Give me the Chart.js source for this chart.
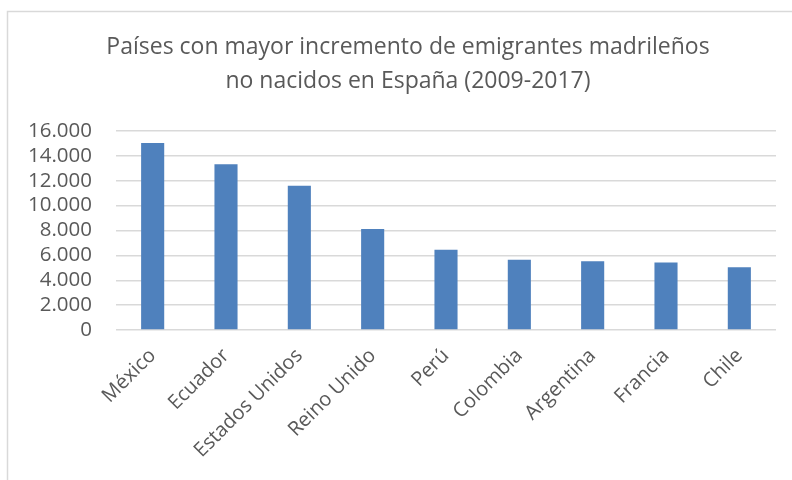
<!DOCTYPE html>
<html>
<head>
<meta charset="utf-8">
<script src="https://cdn.jsdelivr.net/npm/chart.js@4"></script>
<style>
  html, body { margin: 0; padding: 0; background: #fff; }
  #wrap { width: 792px; height: 480px; position: relative; }
</style>
</head>
<body>
<div id="wrap"><canvas id="chart" width="792" height="480"></canvas></div>
<script>
// Países con mayor incremento de emigrantes (2009-2017)
const paises = ['México', 'Ecuador', 'Estados Unidos', 'Reino Unido', 'Perú', 'Colombia', 'Argentina', 'Francia', 'Chile'];
const emigrantes = [15030, 13330, 11600, 8130, 6450, 5650, 5520, 5420, 5040];
const tituloLineas = ['Países con mayor incremento de emigrantes madrileños', 'no nacidos en España (2009-2017)'];

const gris = '#595959';

// marco gris claro y título centrado sobre el marco, como en Excel
const marco = {
  id: 'marco',
  beforeDraw(chart) {
    const c = chart.ctx;
    c.save();
    c.fillStyle = '#fff';
    c.fillRect(0, 0, chart.width, chart.height);
    c.strokeStyle = '#d9d9d9';
    c.lineWidth = 1.5;
    c.strokeRect(7.5, 11.5, 900, 600);
    c.restore();
  },
  afterDraw(chart) {
    const c = chart.ctx;
    c.save();
    c.fillStyle = gris;
    c.font = '23px "Open Sans"';
    c.textAlign = 'center';
    c.textBaseline = 'middle';
    tituloLineas.forEach((t, i) => c.fillText(t, 408, 47 + i * 34));
    c.restore();
  }
};

new Chart(document.getElementById('chart'), {
  type: 'bar',
  data: {
    labels: paises,
    datasets: [{
      data: emigrantes,
      backgroundColor: '#4f81bd',
      borderWidth: 0,
      barPercentage: 0.315,
      categoryPercentage: 1
    }]
  },
  options: {
    responsive: false,
    animation: false,
    layout: { padding: { left: 0, right: 16, top: 131, bottom: 0 } },
    plugins: {
      legend: { display: false },
      tooltip: { enabled: false },
      title: { display: false }
    },
    scales: {
      x: {
        grid: { display: false },
        border: { display: false },
        ticks: {
          color: gris,
          font: { family: 'Open Sans', size: 20 },
          maxRotation: 45,
          minRotation: 45,
          padding: 6
        },
        afterFit(scale) { scale.height = 150; }
      },
      y: {
        min: 0,
        max: 16000,
        grid: { color: '#d9d9d9', lineWidth: 1.5, drawTicks: false },
        border: { display: false },
        ticks: {
          stepSize: 2000,
          autoSkip: false,
          color: gris,
          padding: 24,
          font: { family: 'Open Sans', size: 20.5, lineHeight: 1 },
          callback: (v) => v.toLocaleString('de-DE')
        },
        afterFit(scale) { scale.width = 116; }
      }
    }
  },
  plugins: [marco]
});
</script>
</body>
</html>
